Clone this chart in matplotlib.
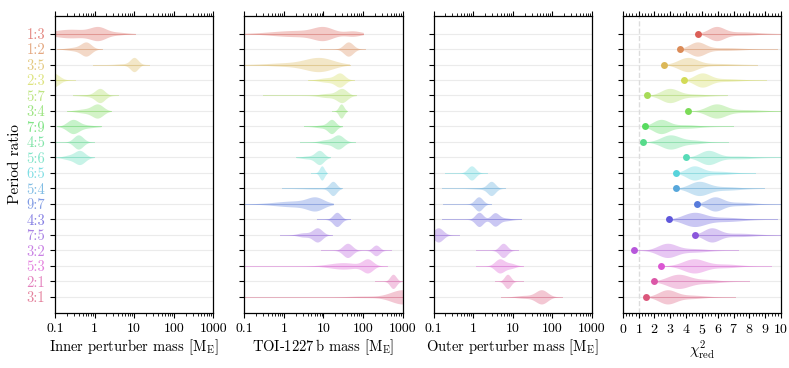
import numpy as np
import matplotlib
matplotlib.use("Agg")
import matplotlib.pyplot as plt
from matplotlib.ticker import FixedLocator, NullFormatter, MultipleLocator
import seaborn as sns

plt.rcParams['font.family'] = 'serif'
plt.rcParams['font.serif'] = ['cmr10']
plt.rcParams['mathtext.fontset'] = 'cm'
plt.rcParams['axes.formatter.use_mathtext'] = True

# period ratios, top to bottom
ratios = ['1:3', '1:2', '3:5', '2:3', '5:7', '3:4', '7:9', '4:5', '5:6',
          '6:5', '5:4', '9:7', '4:3', '7:5', '3:2', '5:3', '2:1', '3:1']

# violins in log10(mass / M_E): ratio -> (low end, high end, [(peak, width, height), ...])
inner = {
    '1:3': (-1.3, 1.03, [(0.1, 0.2, 1.0), (-0.6, 0.45, 0.75), (0.6, 0.2, 0.2)]),
    '1:2': (-0.96, 0.18, [(-0.21, 0.13, 1.0), (-0.5, 0.2, 0.25)]),
    '3:5': (-0.05, 1.37, [(1.0, 0.1, 1.0), (0.7, 0.15, 0.1)]),
    '2:3': (-1.3, -0.49, [(-1.05, 0.15, 1.0)]),
    '5:7': (-0.55, 0.59, [(0.14, 0.12, 1.0), (-0.1, 0.2, 0.15)]),
    '3:4': (-0.7, 0.42, [(0.08, 0.14, 1.0), (-0.25, 0.2, 0.3)]),
    '7:9': (-0.96, 0.16, [(-0.55, 0.15, 1.0), (-0.2, 0.2, 0.2)]),
    '4:5': (-1.0, -0.01, [(-0.41, 0.12, 1.0)]),
    '5:6': (-1.0, -0.01, [(-0.37, 0.13, 1.0), (-0.65, 0.15, 0.3)]),
}

planet = {
    '1:3': (-1.3, 2.01, [(1.0, 0.25, 1.0), (1.75, 0.2, 0.45), (0.3, 0.6, 0.55)]),
    '1:2': (0.92, 2.04, [(1.63, 0.12, 1.0)]),
    '3:5': (-1.3, 1.66, [(0.9, 0.35, 1.0), (0.1, 0.5, 0.25)]),
    '2:3': (0.62, 1.78, [(1.42, 0.12, 1.0), (1.1, 0.2, 0.35)]),
    '5:7': (-0.52, 1.83, [(1.47, 0.13, 1.0), (1.1, 0.2, 0.3)]),
    '3:4': (1.21, 1.59, [(1.45, 0.065, 1.0)]),
    '7:9': (0.51, 1.48, [(1.21, 0.1, 1.0), (0.95, 0.15, 0.2)]),
    '4:5': (0.41, 1.8, [(1.38, 0.13, 1.0), (1.05, 0.15, 0.3)]),
    '5:6': (0.31, 1.17, [(0.9, 0.11, 1.0), (0.6, 0.15, 0.2)]),
    '6:5': (0.68, 1.08, [(0.96, 0.06, 1.0)]),
    '5:4': (-0.05, 1.46, [(1.24, 0.09, 1.0), (0.8, 0.3, 0.08)]),
    '9:7': (-1.3, 1.25, [(0.8, 0.2, 0.8), (0.3, 0.5, 0.45)]),
    '4:3': (0.85, 1.68, [(1.34, 0.1, 1.0)]),
    '7:5': (-0.1, 1.21, [(0.85, 0.12, 1.0), (0.5, 0.15, 0.3)]),
    '3:2': (0.93, 2.71, [(1.61, 0.12, 1.0), (2.33, 0.09, 0.75)]),
    '5:3': (-1.3, 2.6, [(2.12, 0.13, 1.0), (1.5, 0.35, 0.5)]),
    '2:1': (2.31, 3.1, [(2.76, 0.08, 1.0)]),
    '3:1': (-1.3, 3.1, [(3.0, 0.3, 1.0), (2.0, 0.35, 0.1)]),
}

outer = {
    '6:5': (-0.7, 0.34, [(-0.04, 0.1, 1.0)]),
    '5:4': (-0.78, 0.8, [(0.46, 0.1, 1.0), (0.2, 0.2, 0.1)]),
    '9:7': (-0.75, 0.46, [(0.14, 0.1, 1.0)]),
    '4:3': (-0.78, 1.22, [(0.15, 0.1, 1.0), (0.55, 0.1, 0.9), (0.8, 0.15, 0.2)]),
    '7:5': (-1.2, -0.36, [(-0.88, 0.12, 1.0)]),
    '3:2': (0.07, 1.14, [(0.76, 0.1, 1.0)]),
    '5:3': (0.07, 1.27, [(0.67, 0.12, 1.0), (0.95, 0.12, 0.35)]),
    '2:1': (0.55, 1.27, [(0.87, 0.08, 1.0)]),
    '3:1': (0.7, 2.24, [(1.73, 0.15, 1.0), (1.3, 0.2, 0.2)]),
}

# reduced chi^2: best value (dot), tail end, violin peaks
chi_best = [4.76, 3.64, 2.58, 3.85, 1.52, 4.12, 1.37, 1.27, 4.02,
            3.38, 3.38, 4.71, 2.92, 4.55, 0.68, 2.39, 1.97, 1.48]
chi_hi = [10.5, 9.73, 8.46, 9.03, 6.55, 10.5, 6.93, 6.62, 10.5,
          8.35, 8.92, 10.5, 9.73, 10.5, 7.29, 9.37, 7.99, 7.08]
chi_peaks = [
    [(5.9, 0.5, 1.0), (7.5, 1.0, 0.25)],
    [(4.7, 0.5, 1.0), (6.5, 1.0, 0.2)],
    [(4.1, 0.6, 1.0), (6.0, 1.0, 0.15)],
    [(5.0, 0.5, 1.0), (6.5, 0.9, 0.2)],
    [(2.95, 0.55, 1.0), (4.5, 0.8, 0.2)],
    [(5.9, 0.6, 1.0), (7.8, 1.0, 0.2)],
    [(2.4, 0.5, 1.0), (4.0, 0.8, 0.25)],
    [(3.0, 0.6, 1.0), (4.5, 0.6, 0.25)],
    [(5.4, 0.55, 1.0), (7.3, 0.9, 0.2)],
    [(4.5, 0.5, 1.0), (6.0, 0.8, 0.25)],
    [(4.8, 0.6, 1.0), (6.5, 0.9, 0.25)],
    [(5.8, 0.5, 1.0), (7.3, 0.9, 0.25)],
    [(4.5, 0.7, 1.0), (6.5, 1.0, 0.3)],
    [(5.6, 0.5, 1.0), (7.3, 1.0, 0.25)],
    [(2.8, 0.6, 1.0), (4.5, 0.8, 0.25)],
    [(4.5, 0.7, 1.0), (6.5, 0.8, 0.25)],
    [(3.5, 0.7, 1.0), (5.3, 0.8, 0.25)],
    [(2.8, 0.55, 1.0), (4.3, 0.8, 0.25)],
]

colors = sns.color_palette("hls", len(ratios))


def draw_violin(ax, y, lo, hi, peaks, color, log=True):
    t = np.linspace(lo, hi, 500)
    d = sum(a * np.exp(-0.5 * ((t - c) / s) ** 2) for c, s, a in peaks)
    w = 0.46 * d / d.max()
    x = 10 ** t if log else t
    ax.fill_between(x, y - w, y + w, color=color, alpha=0.33, lw=0, zorder=2)
    ax.plot([x[0], x[-1]], [y, y], color=color, alpha=0.4, lw=0.7, zorder=2)


fig, axes = plt.subplots(1, 4, figsize=(7.89, 3.68), dpi=100)
fig.subplots_adjust(left=0.0697, right=0.99, bottom=0.150, top=0.956, wspace=0.196)

for ax in axes:
    ax.set_ylim(18.03, -1.12)
    ax.set_yticks(range(len(ratios)))
    ax.yaxis.grid(True, color='#ebebeb', lw=0.8, zorder=0)
    ax.set_axisbelow(True)
    ax.tick_params(axis='x', which='both', top=True, direction='out', labelsize=10)
    ax.tick_params(axis='x', which='major', length=3.5, width=0.8)
    ax.tick_params(axis='x', which='minor', length=2, width=0.6)
    ax.tick_params(axis='y', which='major', length=3.5, width=0.8, right=False)
    for sp in ax.spines.values():
        sp.set_linewidth(0.9)

mass_panels = [(axes[0], inner, r'Inner perturber mass [$\mathrm{M}_\mathrm{E}$]'),
               (axes[1], planet, r'TOI-1227$\,$b mass [$\mathrm{M}_\mathrm{E}$]'),
               (axes[2], outer, r'Outer perturber mass [$\mathrm{M}_\mathrm{E}$]')]

for ax, data, label in mass_panels:
    for i, r in enumerate(ratios):
        if r in data:
            lo, hi, peaks = data[r]
            draw_violin(ax, i, lo, hi, peaks, colors[i])
    ax.set_xscale('log')
    ax.set_xlim(0.1, 1000)
    ax.xaxis.set_major_locator(FixedLocator([0.1, 1, 10, 100, 1000]))
    ax.set_xticklabels(['0.1', '1', '10', '100', '1000'])
    minors = [m * 10.0 ** e for e in range(-1, 3) for m in range(2, 10)]
    ax.xaxis.set_minor_locator(FixedLocator(minors))
    ax.xaxis.set_minor_formatter(NullFormatter())
    ax.set_xlabel(label, fontsize=10.5, labelpad=2)

ax = axes[3]
ax.axvline(1, color='#dddddd', ls='--', lw=1, zorder=1)
for i in range(len(ratios)):
    draw_violin(ax, i, chi_best[i], chi_hi[i], chi_peaks[i], colors[i], log=False)
    ax.plot(chi_best[i], i, 'o', color=colors[i], ms=5, mec='none', zorder=3)
ax.set_xlim(0, 10)
ax.xaxis.set_major_locator(MultipleLocator(1))
ax.xaxis.set_minor_locator(MultipleLocator(0.2))
ax.set_xlabel(r'$\chi^2_\mathrm{red}$', fontsize=11, labelpad=1)

axes[0].set_yticklabels(ratios, fontsize=10.5)
for lab, c in zip(axes[0].get_yticklabels(), colors):
    lab.set_color(tuple(0.75 * np.array(c) + 0.25))
for ax in axes[1:]:
    ax.set_yticklabels([])
axes[0].set_ylabel('Period ratio', fontsize=11, labelpad=3)

fig.savefig('out.png', dpi=100)
